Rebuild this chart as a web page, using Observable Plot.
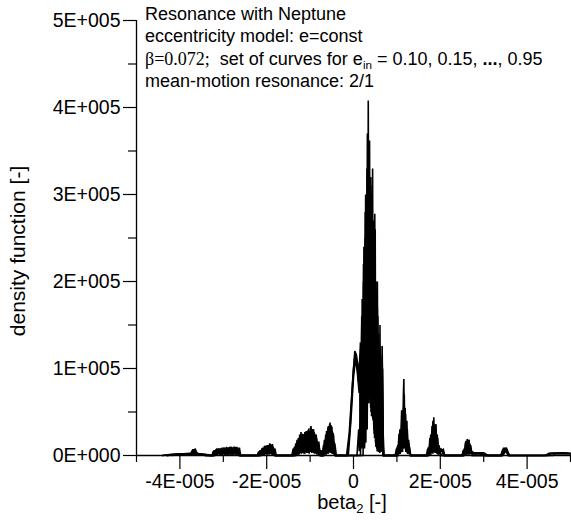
<!DOCTYPE html>
<html>
<head>
<meta charset="utf-8">
<script src="https://cdn.jsdelivr.net/npm/d3@7"></script>
<script src="https://cdn.jsdelivr.net/npm/@observablehq/plot@0.6"></script>
<style>
  body { margin: 0; background: white; }
  #wrap { position: relative; width: 571px; height: 522px; font-family: "Liberation Sans", Arial, sans-serif; color: black; }
  #ann { position: absolute; left: 145px; top: 3px; font-size: 18px; line-height: 22.3px; white-space: nowrap; }
  #ann sub, #xlab sub { font-size: 65%; vertical-align: -0.3em; line-height: 0; }
  .serif { font-family: "Liberation Serif", "Times New Roman", serif; }
  #xlab { position: absolute; left: 352px; top: 491px; transform: translateX(-50%); font-size: 20px; white-space: nowrap; }
</style>
</head>
<body>
<div id="wrap">
  <div id="chart"></div>
  <div id="ann">
    <div>Resonance with Neptune</div>
    <div>eccentricity model: e=const</div>
    <div><span class="serif">β=0.072;</span>&nbsp; set of curves for e<sub>in</sub> = 0.10, 0.15, <b>...</b>, 0.95</div>
    <div>mean-motion resonance: 2/1</div>
  </div>
  <div id="xlab">beta<sub>2</sub> [-]</div>
</div>
<script>
// beta2 values in units of 1e-6, density values in units of 1e3
const X_UNIT = 1e-6;
const Y_UNIT = 1e3;

const yMajorTicks = [0, 1e5, 2e5, 3e5, 4e5, 5e5];
const yMinorTicks = [0.5e5, 1.5e5, 2.5e5, 3.5e5, 4.5e5];
const xLabeledTicks = [-4e-5, -2e-5, 0, 2e-5, 4e-5];
const xMinorTicks = [-5e-5, -3e-5, -1e-5, 1e-5, 3e-5, 5e-5];
const yAxisTitle = ["density function [-]"];

const c010 = [[-44,0],[-42,1.5],[-38.5,2],[-37.2,2.5],[-36.9,7],[-36.7,3],[-36.5,8],[-36.2,4],[-35.8,2],[-34,1],[-33,0],
[-32.6,0],[-32.3,5],[-32.0,1],[-31.7,7],[-31.4,2],[-31.1,8],[-30.8,1],[-30.5,8],[-30.2,2],[-29.9,9],[-29.6,1],[-29.3,10],[-29.0,2],[-28.7,9],[-28.4,1],[-28.1,10],[-27.8,2],[-27.5,10],[-27.2,1],[-26.9,10],[-26.6,3],[-26.3,9],[-26.0,0],
[-22,0],[-21.7,5],[-21.4,1],[-21.1,8],[-20.8,2],[-20.5,11],[-20.2,2],[-19.9,12],[-19.6,3],[-19.3,14],[-19.0,2],[-18.7,13],[-18.4,3],[-18.1,8],[-17.8,0],
[-14.2,0],[-13.9,8],[-13.6,1],[-13.3,14],[-13.0,2],[-12.7,20],[-12.4,3],[-12.1,27],[-11.8,4],[-11.5,24],[-11.2,2],[-10.9,28],[-10.6,5],[-10.3,31],[-10.0,4],[-9.8,34],[-9.5,6],[-9.2,30],[-8.9,3],[-8.6,24],[-8.3,2],[-8.0,16],[-7.7,1],[-7.4,6],[-7.2,0],
[-7.0,0],[-6.7,18],[-6.5,2],[-6.2,28],[-6.0,4],[-5.8,34],[-5.6,6],[-5.4,38],[-5.2,5],[-5.0,33],[-4.8,3],[-4.6,24],[-4.4,2],[-4.2,10],[-4.0,0],
[-1.6,0],[-1.0,25],[-0.4,70],[0,100],[0.4,118],[0.9,108],[1.3,95],[1.6,130],[1.8,30],[2.0,180],[2.2,20],[2.4,240],[2.6,15],[2.8,300],[3.0,50],[3.2,370],[3.3,120],[3.4,408],[3.55,150],[3.7,300],[3.85,90],[4.0,320],[4.15,60],[4.3,290],[4.45,50],[4.6,260],[4.75,30],[4.9,230],[5.05,20],[5.2,200],[5.35,10],[5.5,170],[5.65,8],[5.8,140],[5.95,5],[6.1,110],[6.25,5],[6.4,95],[6.5,10],[6.6,126],[6.8,30],[7.0,0],
[9.6,0],[9.9,8],[10.2,2],[10.5,25],[10.8,5],[11.1,52],[11.3,10],[11.5,70],[11.6,88],[11.75,20],[11.9,55],[12.1,8],[12.3,40],[12.5,5],[12.7,18],[13.0,2],[13.2,0],
[16.8,0],[17.1,8],[17.35,1],[17.6,20],[17.85,3],[18.1,34],[18.3,5],[18.5,44],[18.7,6],[18.9,36],[19.1,4],[19.3,24],[19.5,2],[19.7,12],[19.9,1],[20.1,8],[20.4,6],[20.7,7],[21.0,0],
[25,0],[25.3,6],[25.5,1],[25.8,15],[26.0,2],[26.2,19],[26.4,3],[26.6,18],[26.8,2],[27.0,12],[27.2,1],[27.4,4],[28,3],[30,3],[31,0],
[33.9,0],[34.3,5],[34.6,9],[34.9,5],[35.2,9],[35.6,4],[36,0],
[44.5,0],[45,2.5],[48,3],[50,2.5]];

const c025 = [[-44,0],[-41,1.5],[-37.5,2.5],[-37.0,7],[-36.8,3],[-36.6,7],[-36.3,3],[-36,2],[-34,1],[-33,0],
[-32.4,0],[-32.1,6],[-31.8,1],[-31.5,8],[-31.2,2],[-30.9,7],[-30.6,1],[-30.3,9],[-30.0,2],[-29.7,8],[-29.4,1],[-29.1,9],[-28.8,2],[-28.5,10],[-28.2,1],[-27.9,9],[-27.6,2],[-27.3,10],[-27.0,1],[-26.7,9],[-26.4,2],[-26.2,0],
[-21.8,0],[-21.5,6],[-21.2,1],[-20.9,9],[-20.6,2],[-20.3,11],[-20.0,2],[-19.7,12],[-19.4,3],[-19.1,13],[-18.8,2],[-18.5,10],[-18.2,2],[-18.0,0],
[-13.8,0],[-13.5,10],[-13.2,2],[-12.9,16],[-12.6,3],[-12.3,22],[-12.0,4],[-11.7,25],[-11.4,3],[-11.1,26],[-10.8,4],[-10.5,29],[-10.2,5],[-9.9,32],[-9.6,4],[-9.3,30],[-9.0,3],[-8.7,22],[-8.4,2],[-8.1,14],[-7.8,1],[-7.6,0],
[-7.2,0],[-6.9,12],[-6.7,2],[-6.4,24],[-6.2,3],[-5.9,32],[-5.7,5],[-5.5,36],[-5.3,4],[-5.1,34],[-4.9,3],[-4.7,26],[-4.5,2],[-4.3,14],[-4.1,0],
[-1.2,0],[-0.6,40],[0,90],[0.5,112],[0.9,95],[1.3,72],[1.5,110],[1.7,35],[1.9,160],[2.1,25],[2.3,220],[2.5,15],[2.7,280],[2.9,40],[3.1,330],[3.25,100],[3.4,300],[3.55,130],[3.7,362],[3.85,80],[4.0,310],[4.15,55],[4.3,300],[4.45,45],[4.6,270],[4.75,25],[4.9,240],[5.05,15],[5.2,190],[5.35,8],[5.5,160],[5.65,5],[5.8,130],[5.95,4],[6.1,120],[6.25,4],[6.4,80],[6.55,6],[6.7,40],[6.9,0],
[9.8,0],[10.1,10],[10.4,3],[10.7,30],[10.9,6],[11.2,48],[11.4,12],[11.7,70],[11.85,15],[12.0,48],[12.2,6],[12.4,30],[12.6,4],[12.9,10],[13.2,0],
[17.0,0],[17.3,10],[17.55,2],[17.8,24],[18.0,4],[18.3,40],[18.5,6],[18.7,32],[18.9,8],[19.0,36],[19.2,4],[19.4,20],[19.6,2],[19.8,9],[20.1,6],[20.5,6],[20.9,0],
[25.2,0],[25.5,8],[25.7,1],[25.9,17],[26.1,2],[26.3,14],[26.45,2],[26.6,18],[26.8,3],[27.0,10],[27.3,3],[29,2.5],[30.5,0],
[34.1,0],[34.4,7],[34.7,5],[35,8],[35.4,6],[35.8,0],
[45,0],[45.5,2.5],[49,2.5],[50,2]];

const c040 = [[-43,0],[-40,1.5],[-37,2],[-36.7,5],[-36.4,2],[-34,0],
[-32.2,0],[-31.9,4],[-31.6,1],[-31.3,7],[-31.0,2],[-30.7,6],[-30.4,1],[-30.1,8],[-29.8,2],[-29.5,7],[-29.2,1],[-28.9,9],[-28.6,2],[-28.3,10],[-28.0,1],[-27.7,8],[-27.4,2],[-27.1,9],[-26.8,1],[-26.5,7],[-26.1,0],
[-21.6,0],[-21.3,5],[-21.0,1],[-20.7,8],[-20.4,2],[-20.1,10],[-19.8,1],[-19.5,11],[-19.2,3],[-18.9,12],[-18.6,2],[-18.4,7],[-18.2,0],
[-13.6,0],[-13.3,7],[-13.0,1],[-12.7,14],[-12.4,2],[-12.1,19],[-11.8,3],[-11.5,24],[-11.2,4],[-10.9,22],[-10.6,3],[-10.3,27],[-10.0,5],[-9.7,29],[-9.4,4],[-9.1,27],[-8.8,3],[-8.5,20],[-8.2,2],[-7.9,9],[-7.7,0],
[-7.0,0],[-6.7,10],[-6.5,1],[-6.2,22],[-6.0,2],[-5.7,33],[-5.5,4],[-5.3,30],[-5.1,3],[-4.9,28],[-4.7,2],[-4.5,16],[-4.2,0],
[0.8,0],[1.2,30],[1.35,5],[1.6,70],[1.75,10],[2.0,140],[2.15,12],[2.4,200],[2.55,20],[2.8,250],[2.95,35],[3.1,270],[3.25,70],[3.5,300],[3.65,90],[3.8,280],[3.95,60],[4.1,300],[4.25,50],[4.4,330],[4.55,45],[4.7,250],[4.85,30],[5.0,260],[5.15,15],[5.3,180],[5.45,8],[5.6,160],[5.75,5],[5.9,120],[6.05,4],[6.2,125],[6.35,5],[6.5,60],[6.7,20],[7.0,0],
[10,0],[10.3,8],[10.55,2],[10.8,26],[11.0,4],[11.2,40],[11.35,8],[11.5,52],[11.65,10],[11.8,40],[12.0,6],[12.2,30],[12.4,3],[12.6,12],[13,0],
[17.1,0],[17.4,8],[17.6,2],[17.9,22],[18.1,3],[18.4,33],[18.6,5],[18.8,28],[19.0,3],[19.2,16],[19.4,2],[19.7,8],[20.0,5],[20.4,5],[20.8,0],
[25.3,0],[25.6,7],[25.8,1],[26.0,14],[26.15,2],[26.3,11],[26.45,2],[26.6,15],[26.8,2],[27,8],[27.3,2],[29,2],[30,0],
[34.2,0],[34.6,6],[35,7],[35.4,5],[35.7,0],
[46,0],[46.5,2],[50,2]];

const c055 = [[-42,0],[-40,1],[-37.5,2],[-36.5,3],[-34,0],
[-32,0],[-31.7,5],[-31.4,1],[-31.1,6],[-30.8,2],[-30.5,8],[-30.2,1],[-29.9,7],[-29.6,2],[-29.3,8],[-29.0,1],[-28.7,9],[-28.4,2],[-28.1,8],[-27.8,1],[-27.5,10],[-27.2,2],[-26.9,7],[-26.6,2],[-26.3,0],
[-21.4,0],[-21.1,6],[-20.8,1],[-20.5,9],[-20.2,2],[-19.9,11],[-19.6,2],[-19.3,10],[-19.0,2],[-18.7,7],[-18.4,1],[-18.1,0],
[-13.4,0],[-13.1,9],[-12.8,1],[-12.5,15],[-12.2,3],[-11.9,20],[-11.6,3],[-11.3,17],[-11.0,4],[-10.7,23],[-10.4,3],[-10.1,21],[-9.8,4],[-9.5,25],[-9.2,3],[-8.9,25],[-8.6,2],[-8.3,16],[-8.0,1],[-7.8,6],[-7.6,0],
[-6.9,0],[-6.6,15],[-6.4,2],[-6.1,25],[-5.9,3],[-5.6,31],[-5.4,4],[-5.2,35],[-5.0,3],[-4.8,26],[-4.6,2],[-4.4,12],[-4.1,0],
[1.6,0],[1.8,40],[1.95,8],[2.1,100],[2.25,10],[2.4,130],[2.55,15],[2.8,180],[2.95,30],[3.2,220],[3.35,60],[3.6,200],[3.75,70],[4.0,250],[4.15,45],[4.3,210],[4.45,42],[4.6,240],[4.75,30],[4.9,278],[5.05,20],[5.2,160],[5.35,10],[5.5,200],[5.65,6],[5.8,110],[5.95,4],[6.1,150],[6.25,4],[6.4,70],[6.55,5],[6.7,100],[6.9,0],
[10.2,0],[10.5,10],[10.7,2],[11.0,30],[11.2,5],[11.45,48],[11.6,58],[11.75,10],[11.9,36],[12.1,4],[12.3,20],[12.5,2],[12.8,5],[13.1,0],
[17.2,0],[17.5,7],[17.7,1],[18.0,18],[18.2,3],[18.5,28],[18.7,4],[18.9,24],[19.1,3],[19.3,14],[19.5,1],[19.8,6],[20.3,0],
[25.4,0],[25.7,6],[25.9,1],[26.1,12],[26.25,2],[26.4,10],[26.55,2],[26.7,13],[26.9,2],[27.1,5],[27.3,0],
[34.3,0],[34.7,4],[35,6],[35.3,4],[35.6,0]];

const c070 = [[-43,0],[-39,1.5],[-37,1.5],[-35,1],[-33,0],
[-32.5,0],[-32.2,4],[-31.9,1],[-31.6,6],[-31.3,1],[-31.0,8],[-30.7,2],[-30.4,6],[-30.1,1],[-29.8,9],[-29.5,2],[-29.2,7],[-28.9,1],[-28.6,8],[-28.3,2],[-28.0,9],[-27.7,1],[-27.4,7],[-27.1,2],[-26.8,8],[-26.5,1],[-26.2,0],
[-22.2,0],[-21.9,4],[-21.6,1],[-21.3,6],[-21.0,1],[-20.7,7],[-20.4,1],[-20.1,10],[-19.8,2],[-19.5,9],[-19.2,2],[-18.9,8],[-18.6,1],[-18.4,5],[-18.1,0],
[-13.9,0],[-13.6,10],[-13.3,1],[-13.0,18],[-12.7,2],[-12.4,24],[-12.1,3],[-11.8,21],[-11.5,3],[-11.2,27],[-10.9,4],[-10.6,24],[-10.3,3],[-10.0,28],[-9.7,5],[-9.4,30],[-9.1,3],[-8.8,22],[-8.5,2],[-8.2,14],[-7.9,1],[-7.7,4],[-7.5,0],
[-7.1,0],[-6.8,12],[-6.6,2],[-6.3,22],[-6.1,3],[-5.9,30],[-5.7,4],[-5.5,27],[-5.3,3],[-5.1,31],[-4.9,2],[-4.7,20],[-4.5,2],[-4.4,8],[-4.2,0],
[-1.4,0],[-0.8,30],[-0.2,85],[0.3,120],[0.7,115],[1.1,85],[1.4,100],[1.6,25],[1.9,150],[2.1,18],[2.3,200],[2.5,12],[2.7,250],[2.85,30],[3.0,230],[3.15,60],[3.3,280],[3.45,80],[3.6,260],[3.75,100],[3.9,230],[4.05,50],[4.2,270],[4.35,48],[4.5,180],[4.65,35],[4.8,220],[4.95,20],[5.1,120],[5.25,12],[5.4,160],[5.55,8],[5.7,80],[5.85,5],[6.0,120],[6.15,5],[6.3,90],[6.45,8],[6.6,115],[6.8,0],
[9.9,0],[10.2,12],[10.4,3],[10.7,22],[10.9,5],[11.2,38],[11.4,8],[11.6,44],[11.75,12],[11.9,38],[12.1,5],[12.3,26],[12.5,3],[12.7,14],[12.9,4],[13.2,0],
[17,0],[17.3,8],[17.5,1],[17.8,18],[18.0,3],[18.3,30],[18.45,5],[18.6,35],[18.8,6],[19.0,26],[19.2,3],[19.4,14],[19.6,2],[19.9,7],[20.3,5],[20.6,5],[21,0],
[25.1,0],[25.4,5],[25.6,1],[25.9,12],[26.05,2],[26.2,14],[26.35,2],[26.5,11],[26.65,2],[26.8,14],[27.0,2],[27.1,5],[27.5,2],[29.5,2],[30.5,0],
[34,0],[34.4,5],[34.8,8],[35.1,6],[35.5,3],[35.9,0],
[44,0],[45,2],[49,2.5],[50,2]];

const c095 = [[-43,0],[-41,1],[-36,1],[-34,0],
[-32,0],[-31.7,3],[-31.4,1],[-31.1,5],[-30.8,1],[-30.5,6],[-30.2,1],[-29.9,5],[-29.6,1],[-29.3,7],[-29.0,1],[-28.7,6],[-28.4,1],[-28.1,7],[-27.8,1],[-27.5,8],[-27.2,1],[-26.9,6],[-26.4,0],
[-21.2,0],[-20.9,5],[-20.6,1],[-20.3,7],[-20.0,1],[-19.7,8],[-19.4,1],[-19.1,7],[-18.8,1],[-18.5,3],[-18,0],
[-13.2,0],[-12.9,8],[-12.6,1],[-12.3,13],[-12.0,2],[-11.7,16],[-11.4,2],[-11.1,14],[-10.8,3],[-10.5,18],[-10.2,2],[-9.9,20],[-9.6,3],[-9.3,18],[-9.0,2],[-8.7,14],[-8.4,1],[-8.1,6],[-7.8,0],
[-6.8,0],[-6.5,10],[-6.3,1],[-6.0,18],[-5.8,2],[-5.5,24],[-5.3,3],[-5.1,20],[-4.9,2],[-4.7,14],[-4.5,1],[-4.3,5],[-4.1,0],
[2.2,0],[2.4,60],[2.55,8],[2.7,100],[2.85,15],[3.0,150],[3.15,30],[3.4,200],[3.55,60],[3.8,190],[3.95,55],[4.1,235],[4.25,45],[4.4,120],[4.55,40],[4.7,180],[4.85,20],[5.0,90],[5.15,10],[5.3,140],[5.45,5],[5.6,60],[5.75,4],[5.9,100],[6.05,3],[6.2,40],[6.5,20],[6.8,0],
[10.3,0],[10.6,8],[10.8,2],[11.1,20],[11.3,4],[11.5,32],[11.6,36],[11.75,8],[11.9,28],[12.1,4],[12.3,16],[12.5,2],[12.8,4],[13.1,0],
[17.3,0],[17.6,6],[17.8,1],[18.1,14],[18.3,2],[18.6,22],[18.8,3],[19,18],[19.2,2],[19.4,10],[19.9,4],[20.2,0],
[25.5,0],[25.8,5],[26.0,1],[26.2,10],[26.35,1],[26.5,8],[26.65,1],[26.8,10],[27.1,4],[27.4,0],
[34.4,0],[34.8,3],[35.1,5],[35.4,3],[35.7,0]];

const eInLabels = ["0.10", "0.25", "0.40", "0.55", "0.70", "0.95"];
const curveSets = [c010, c025, c040, c055, c070, c095];

const rows = curveSets.flatMap((pts, i) => pts.map(([b, f]) => ({e: eInLabels[i], beta2: b * X_UNIT, density: f * Y_UNIT})));

function pad3(n) { return String(n).padStart(3, "0"); }
function sci(v) {
  if (v === 0) return "0E+000";
  const ex = Math.floor(Math.log10(Math.abs(v)) + 1e-9);
  const m = Math.round(v / Math.pow(10, ex));
  return `${m}E${ex < 0 ? "-" : "+"}${pad3(Math.abs(ex))}`;
}
const fmtY = v => sci(v);
const fmtX = v => (Math.abs(v) < 1e-12 ? "0" : sci(v));

const chart = Plot.plot({
  width: 571,
  height: 522,
  marginLeft: 136,
  marginRight: 1,
  marginTop: 20,
  marginBottom: 67,
  x: {domain: [-5e-5, 5e-5]},
  y: {domain: [0, 5e5]},
  style: {fontFamily: "'Liberation Sans', Arial, sans-serif", fontSize: "19.5px", color: "black", background: "white", overflow: "visible"},
  marks: [
    Plot.line(rows, {x: "beta2", y: "density", z: "e", stroke: "black", strokeWidth: 1.6, strokeLinejoin: "miter", strokeMiterlimit: 2}),
    Plot.ruleX([-5e-5], {stroke: "black", strokeWidth: 1.3}),
    Plot.ruleY([0], {stroke: "black", strokeWidth: 1.3}),
    Plot.axisY({ticks: yMajorTicks, tickSize: 13, tickPadding: 3, tickFormat: fmtY, label: null, strokeWidth: 1.2, fontSize: 19.5}),
    Plot.axisY({ticks: yMinorTicks, tickSize: 8, tickFormat: () => "", label: null, strokeWidth: 1.2}),
    Plot.axisX({ticks: xLabeledTicks, tickSize: 14, tickPadding: 5, tickFormat: fmtX, label: null, strokeWidth: 1.2, fontSize: 19.5}),
    Plot.axisX({ticks: xMinorTicks, tickSize: 7, tickFormat: () => "", label: null, strokeWidth: 1.2}),
    Plot.text(yAxisTitle, {frameAnchor: "left", dx: -118, dy: 13, rotate: -90, textAnchor: "middle", lineAnchor: "middle", fontSize: 21, fill: "black"})
  ]
});
document.getElementById("chart").appendChild(chart);
</script>
</body>
</html>
